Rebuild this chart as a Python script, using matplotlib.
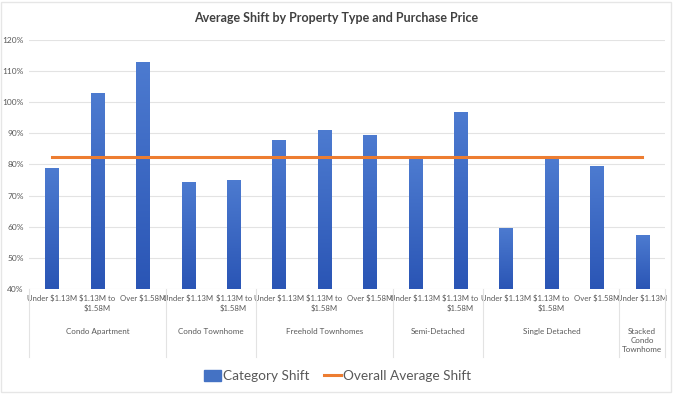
import matplotlib
matplotlib.use("Agg")
import matplotlib.pyplot as plt
import matplotlib.transforms as mtransforms
from matplotlib.patches import Patch
from matplotlib.lines import Line2D
from matplotlib.colors import LinearSegmentedColormap
import numpy as np

plt.rcParams['font.family'] = ['Lato', 'DejaVu Sans']

# ---- data ----
price_labels = ["Under $1.13M", "$1.13M to\n$1.58M", "Over $1.58M",
                "Under $1.13M", "$1.13M to\n$1.58M",
                "Under $1.13M", "$1.13M to\n$1.58M", "Over $1.58M",
                "Under $1.13M", "$1.13M to\n$1.58M",
                "Under $1.13M", "$1.13M to\n$1.58M", "Over $1.58M",
                "Under $1.13M"]
property_types = ["Condo Apartment", "Condo Townhome", "Freehold Townhomes",
                  "Semi-Detached", "Single Detached", "Stacked\nCondo\nTownhome"]
group_sizes = [3, 2, 3, 2, 3, 1]
category_shift = [79, 103, 113, 74.5, 75.1, 88, 91, 89.5, 82, 97, 59.7, 81.8, 79.5, 57.3]
overall_average = 82.3
yticks = [40, 50, 60, 70, 80, 90, 100, 110, 120]

BLUE = "#4472C4"
ORANGE = "#ED7D31"
TXT = "#595959"

fig = plt.figure(figsize=(6.75, 3.94), dpi=100)
ax = fig.add_axes([0.0435, 0.2665, 0.9415, 0.632])

n = len(category_shift)
x = np.arange(n)
bars = ax.bar(x, category_shift, width=0.29, color=BLUE, zorder=2)

# vertical gradient inside bars
grad = np.linspace(0, 1, 256).reshape(-1, 1)
cmap = LinearSegmentedColormap.from_list("g", ["#2A55B5", "#4D7BD0"])
for b in bars:
    bx, by = b.get_x(), b.get_y()
    w, h = b.get_width(), b.get_height()
    im = ax.imshow(grad, extent=[bx, bx + w, 40, by + h], origin='lower',
                   cmap=cmap, aspect='auto', zorder=2.1)
    im.set_clip_path(b)

ax.plot([x[0], x[-1]], [overall_average, overall_average], color=ORANGE, lw=2.2, zorder=3)

ax.set_xlim(-0.5, n - 0.5)
ax.set_ylim(40, 120)
ax.set_yticks(yticks)
ax.set_yticklabels([f"{t}%" for t in yticks], fontsize=6, color=TXT)
ax.yaxis.grid(True, color="#E3E3E3", lw=0.8, zorder=0)
ax.set_axisbelow(True)
for s in ax.spines.values():
    s.set_visible(False)
ax.tick_params(axis='y', length=0, pad=4)
ax.tick_params(axis='x', length=0, pad=4)
ax.set_xticks(x)
ax.set_xticklabels(price_labels, fontsize=5.6, color=TXT, linespacing=1.35, va='top')

# group labels and separators
trans = mtransforms.blended_transform_factory(ax.transData, ax.transAxes)
start = 0
bounds = [-0.5]
for name, size in zip(property_types, group_sizes):
    center = start + (size - 1) / 2
    ax.text(center, -0.155, name, transform=trans, ha='center', va='top',
            fontsize=5.8, color=TXT, linespacing=1.4)
    start += size
    bounds.append(start - 0.5)
for bnd in bounds:
    ax.plot([bnd, bnd], [0, -0.275], transform=trans, color="#E3E3E3", lw=0.8, clip_on=False)

fig.text(0.498, 0.955, "Average Shift by Property Type and Purchase Price",
         ha='center', va='center', fontsize=9.0, fontweight='bold', color="#404040")

handles = [Patch(facecolor=BLUE, edgecolor=BLUE),
           Line2D([0], [0], color=ORANGE, lw=2.2)]
leg = fig.legend(handles, ["Category Shift", "Overall Average Shift"],
                 loc='center', bbox_to_anchor=(0.5, 0.045), ncol=2, frameon=False,
                 fontsize=9.8, handlelength=1.25, handleheight=0.8, handletextpad=0.1,
                 columnspacing=1.1, labelcolor=TXT)

# faint border
fig.patches.append(plt.Rectangle((0.002, 0.004), 0.992, 0.99, transform=fig.transFigure,
                                 fill=False, edgecolor="#E6E6E6", lw=1.0))

fig.savefig("out.png", dpi=100)
